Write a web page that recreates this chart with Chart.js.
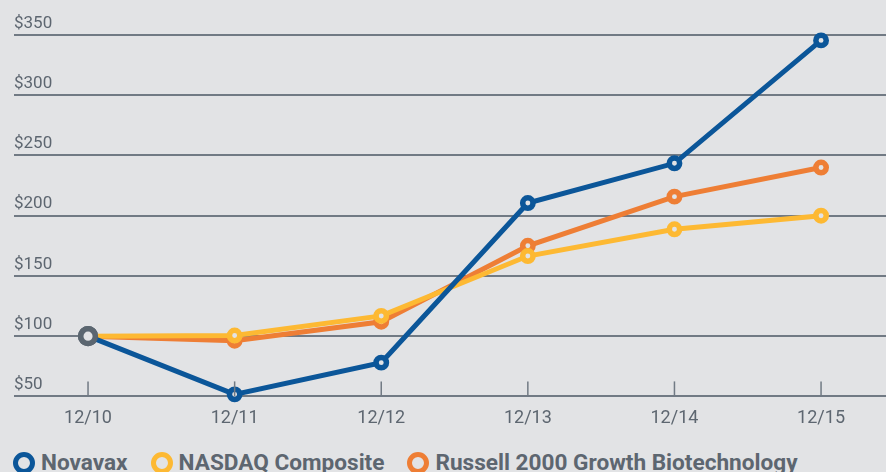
<!DOCTYPE html>
<html>
<head>
<meta charset="utf-8">
<script src="https://cdn.jsdelivr.net/npm/chart.js@4"></script>
<style>
  html, body { margin: 0; padding: 0; background: #e2e3e5; }
  #wrap { position: relative; width: 886px; height: 472px; background: #e2e3e5; overflow: hidden; }
  #chartBox { position: absolute; left: 0; top: 0; width: 886px; height: 440px; }
  #legend { position: absolute; left: 13px; top: 449px; display: flex; align-items: center;
    font-family: Roboto, "Liberation Sans", sans-serif; font-weight: bold; font-size: 22.6px; color: #5d6670; }
  .item { display: flex; align-items: center; margin-right: 23px; white-space: nowrap; }
  .dot { width: 12px; height: 12px; border-radius: 50%; border: 5px solid; background: #e2e3e5; margin-right: 6px; }
</style>
</head>
<body>
<div id="wrap">
  <div id="chartBox"><canvas id="chart"></canvas></div>
  <div id="legend"></div>
</div>
<script>
// Data
const periods = ["12/10", "12/11", "12/12", "12/13", "12/14", "12/15"];
const yTicks = [50, 100, 150, 200, 250, 300, 350];
const seriesNames = ["Novavax", "NASDAQ Composite", "Russell 2000 Growth Biotechnology"];
const novavax = [100, 51.7, 78, 210.5, 243.5, 345.5];
const nasdaq = [100, 100.5, 116.8, 166.5, 188.7, 200];
const russell = [100, 96.2, 112, 175, 215.8, 240];

const colors = ["#0b5699", "#fdb933", "#ee7e35"];
const bg = "#e2e3e5";
const gridColor = "#717a84";
const textColor = "#5d6670";

function makeDataset(name, values, color) {
  return {
    label: name,
    data: values.map((v, i) => ({ x: i, y: v })),
    borderColor: color,
    borderWidth: 5,
    tension: 0,
    pointRadius: values.map((_, i) => (i === 0 ? 7.3 : 5.2)),
    pointBorderWidth: 5.5,
    pointBorderColor: values.map((_, i) => (i === 0 ? "#5b6670" : color)),
    pointBackgroundColor: bg,
    pointHoverRadius: 0,
    clip: false,
  };
}

// Small upward tick marks on the baseline at each period
const xTickMarks = {
  id: "xTickMarks",
  afterDatasetsDraw(chart) {
    const { ctx, scales } = chart;
    const yBase = scales.y.getPixelForValue(yTicks[0]);
    ctx.save();
    ctx.strokeStyle = gridColor;
    ctx.lineWidth = 1.5;
    periods.forEach((_, i) => {
      const x = scales.x.getPixelForValue(i);
      ctx.beginPath();
      ctx.moveTo(x, yBase);
      ctx.lineTo(x, yBase - 15);
      ctx.stroke();
    });
    ctx.restore();
  },
};

const chartCtx = document.getElementById("chart").getContext("2d");
new Chart(chartCtx, {
  type: "line",
  data: {
    datasets: [
      makeDataset(seriesNames[0], novavax, colors[0]),
      makeDataset(seriesNames[1], nasdaq, colors[1]),
      makeDataset(seriesNames[2], russell, colors[2]),
    ],
  },
  options: {
    responsive: true,
    maintainAspectRatio: false,
    animation: false,
    layout: { autoPadding: false, padding: { left: 14, right: 0, top: 0, bottom: 0 } },
    plugins: { legend: { display: false }, tooltip: { enabled: false } },
    scales: {
      x: {
        type: "linear",
        min: -0.505,
        max: 5.443,
        grid: { display: false, drawTicks: false },
        border: { display: false },
        afterBuildTicks: (scale) => {
          scale.ticks = periods.map((_, i) => ({ value: i }));
        },
        afterFit: (scale) => {
          scale.paddingLeft = 0;
          scale.paddingRight = 0;
        },
        ticks: {
          color: textColor,
          font: { family: "Roboto", size: 18 },
          padding: 11,
          autoSkip: false,
          maxRotation: 0,
          callback: (v) => periods[v],
        },
      },
      y: {
        min: 50,
        max: 379.05,
        afterBuildTicks: (scale) => {
          scale.ticks = yTicks.map((v) => ({ value: v }));
        },
        afterFit: (scale) => {
          scale.paddingTop = 0;
          scale.paddingBottom = 0;
        },
        grid: { color: gridColor, lineWidth: 2, drawTicks: false },
        border: { display: false },
        ticks: {
          mirror: true,
          padding: 0,
          labelOffset: -11.5,
          color: textColor,
          font: { family: "Roboto", size: 17 },
          callback: (v) => "$" + v,
        },
      },
    },
  },
  plugins: [xTickMarks],
});

// HTML legend
const legendEl = document.getElementById("legend");
seriesNames.forEach((name, i) => {
  const item = document.createElement("div");
  item.className = "item";
  const dot = document.createElement("span");
  dot.className = "dot";
  dot.style.borderColor = colors[i];
  const label = document.createElement("span");
  label.textContent = name;
  item.appendChild(dot);
  item.appendChild(label);
  legendEl.appendChild(item);
});
</script>
</body>
</html>
